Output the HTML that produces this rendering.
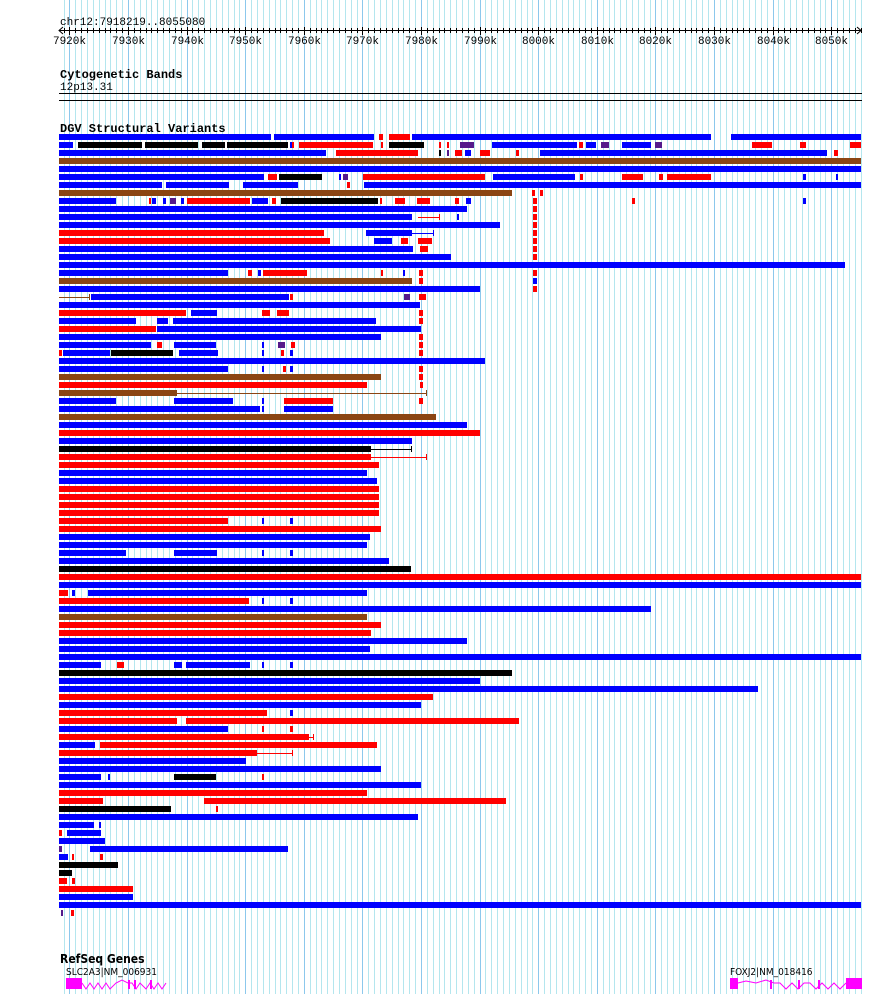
<!DOCTYPE html>
<html><head><meta charset="utf-8"><style>
html,body{margin:0;padding:0;background:#fff;width:890px;height:994px;overflow:hidden}
svg{display:block}
text{font-family:"Liberation Mono","DejaVu Sans Mono",monospace;font-size:11px;fill:#000}
.b{font-weight:bold;font-size:12px}
</style></head><body>
<svg id="s" width="890" height="994" xmlns="http://www.w3.org/2000/svg">
<g id="grid"></g>
<text x="60" y="25">chr12:7918219..8055080</text>
<g id="axis"></g>
<text x="60" y="78" class="b">Cytogenetic Bands</text>
<text x="60" y="90">12p13.31</text>
<rect x="59" y="93" width="803" height="1" fill="#000"/>
<rect x="59" y="100" width="803" height="1" fill="#000"/>
<text x="60" y="132" class="b">DGV Structural Variants</text>
<g id="rows"></g>
<text x="60" y="963" class="b" style="font-family:'DejaVu Sans Condensed','Liberation Sans',sans-serif">RefSeq Genes</text>
<text x="66" y="975" style="font-family:'DejaVu Sans Condensed','Liberation Sans',sans-serif;font-size:10px">SLC2A3|NM_006931</text>
<text x="730" y="975" style="font-family:'DejaVu Sans Condensed','Liberation Sans',sans-serif;font-size:10px">FOXJ2|NM_018416</text>
<g fill="#f0f" stroke="#f0f">
<rect x="66" y="978" width="16" height="11" stroke="none"/>
<polyline fill="none" points="82,983 86,989 90,983 94,989 98,983 102,989 106,983 110,989 116,983 122,980 128,983 132,983 136,989 140,983 146,989 150,983 154,989 158,983 162,989 166,983"/>
<rect x="128" y="980" width="2" height="9" stroke="none"/><rect x="134" y="980" width="2" height="9" stroke="none"/><rect x="150" y="980" width="2" height="9" stroke="none"/>
<rect x="730" y="978" width="8" height="11" stroke="none"/>
<polyline fill="none" points="738,983 746,981 756,983 766,980 774,983 780,983 786,989 792,983 798,989 804,983 810,983 816,989 822,983 828,989 834,983 840,989 846,983"/>
<rect x="770" y="980" width="2" height="9" stroke="none"/><rect x="798" y="980" width="2" height="9" stroke="none"/><rect x="818" y="980" width="2" height="9" stroke="none"/>
<rect x="846" y="978" width="16" height="11" stroke="none"/>
</g>
</svg>
<script>
var NS="http://www.w3.org/2000/svg";
function el(p,t,a){var e=document.createElementNS(NS,t);for(var k in a)e.setAttribute(k,a[k]);p.appendChild(e);return e;}
var S=5.86,X0=59,B0=7918.219;
function X(k){return X0+(k-B0)*S;}
var g=document.getElementById('grid');
for(var k=7919;k<=8055;k++){var x=Math.round(X(k))+0.5;el(g,'line',{x1:x,y1:0,x2:x,y2:994,stroke:(k%10==0?'#8cc8ec':'#b4e6ee'),'stroke-width':1});}
var a=document.getElementById('axis');
el(a,'line',{x1:59,y1:30.5,x2:861,y2:30.5,stroke:'#000'});
el(a,'polyline',{points:'63,27 59,30.5 63,34',fill:'none',stroke:'#000'});
el(a,'polyline',{points:'857,27 861,30.5 857,34',fill:'none',stroke:'#000'});
for(var k=7919;k<=8055;k++){var x=Math.round(X(k))+0.5;var M=k%10==0;el(a,'line',{x1:x,y1:M?27:28,x2:x,y2:M?35:33,stroke:'#000'});
 if(M){var t=el(a,'text',{x:x,y:44,'text-anchor':'middle'});t.textContent=k+'k';}}
var C={b:'#0000ff',r:'#ff0000',k:'#000000',n:'#8b4513',p:'#551a8b'};
var R=[
"b59-271 b274-374 r379-383 r389-410 b412-711 b731-861",
"b59-73 k78-142 k145-198 k202-225 k227-288 b290-292 r292-294 r299-373 r381-383 k389-424 r439-441 r447-449 p460-474 b492-577 r579-583 b586-596 p601-609 b622-651 p655-662 r752-772 r800-806 r850-861",
"b59-326 r336-418 k439-441 p447-449 r455-462 b465-471 r480-490 r516-519 b540-827 r834-838",
"n59-861","b59-861",
"b59-264 r268-277 k279-322 b339-341 p343-348 r363-485 b493-575 r580-583 r622-643 r659-663 r667-711 b803-806 b836-838",
"b59-162 b166-229 b243-298 r347-350 b364-861",
"n59-512 r532-535 r540-543",
"b59-116 r149-151 b152-156 b163-166 p170-176 b181-184 r187-250 b252-268 r272-276 k281-378 r380-382 r395-405 r417-430 r455-459 b466-471 r533-537 r632-635 b803-806",
"b59-467 r533-537","b59-412 L418-440r b457-459 r533-537","b59-500 r533-537",
"r59-324 b366-412 L412-434b r533-537","r59-330 b374-392 r401-408 r418-432 r533-537",
"b59-413 r420-428 r533-537","b59-451 r533-537","b59-845",
"b59-228 r248-252 b258-261 r263-307 r381-383 b403-405 r419-423 r533-537",
"n59-412 r419-423 b533-537","b59-480 r533-537",
"L59-90n b91-289 r290-293 p404-410 r419-426","b59-420",
"r59-186 b191-217 r262-270 r277-289 r419-423","b59-136 b157-168 b173-376 r419-423",
"r59-156 b157-421","b59-381 r419-423",
"b59-151 r157-162 b174-216 b262-264 p278-285 r291-295 r419-423",
"r59-62 b63-110 k111-173 b179-218 b262-264 r281-284 b290-293 r419-423",
"b59-485","b59-228 b262-264 r283-286 b290-293 r419-423",
"n59-381 r419-423","r59-367 r420-423","n59-177 L177-427n",
"b59-116 b174-233 b262-264 r284-333 r419-423","b59-260 b262-264 b284-333",
"n59-436","b59-467","r59-480","b59-412","k59-371 L371-412k","r59-371 L371-427r",
"r59-379","b59-367","b59-377","r59-379","r59-379","r59-379","r59-379",
"r59-228 b262-264 b290-293","r59-381","b59-370","b59-367",
"b59-126 b174-217 b262-264 b290-293","b59-389","k59-411","r59-861","b59-861",
"r59-68 b72-75 b88-367","r59-249 b262-264 b290-293","b59-651","n59-367","r59-381","r59-371",
"b59-467","b59-370","b59-861","b59-101 r117-124 b174-182 b186-250 b262-264 b290-293",
"k59-512","b59-480","b59-758","r59-433","b59-421","r59-267 b290-293","r59-177 r186-519",
"b59-228 r262-264 r290-293","r59-309 L309-314r","b59-95 r100-377","r59-257 L257-293r",
"b59-246","b59-381","b59-101 b108-110 k174-216 r262-264","b59-421","r59-367",
"r59-103 r204-506","k59-171 r216-218","b59-418","b59-94 b99-101","r59-62 b67-101",
"b59-105","p59-62 b90-288","b59-68 r72-74 r100-103","k59-118","k59-72","r59-67 r72-75",
"r59-133","b59-133","b59-861","p61-63 r71-74"
];
var rg=document.getElementById('rows');
R.forEach(function(row,i){var y=134+8*i;row.split(' ').forEach(function(s){
 if(s[0]=='L'){var m=s.slice(1).match(/(\d+)-(\d+)(\w)/);var x1=+m[1],x2=+m[2],c=C[m[3]];
  el(rg,'line',{x1:x1,y1:y+3.5,x2:x2,y2:y+3.5,stroke:c});el(rg,'line',{x1:x2-0.5,y1:y,x2:x2-0.5,y2:y+6,stroke:c});}
 else{var c=C[s[0]];var m=s.slice(1).split('-');var x1=+m[0],x2=+m[1];
  el(rg,'rect',{x:x1,y:y,width:Math.max(2,x2-x1),height:6,fill:c});}
});});
</script>
</body></html>
